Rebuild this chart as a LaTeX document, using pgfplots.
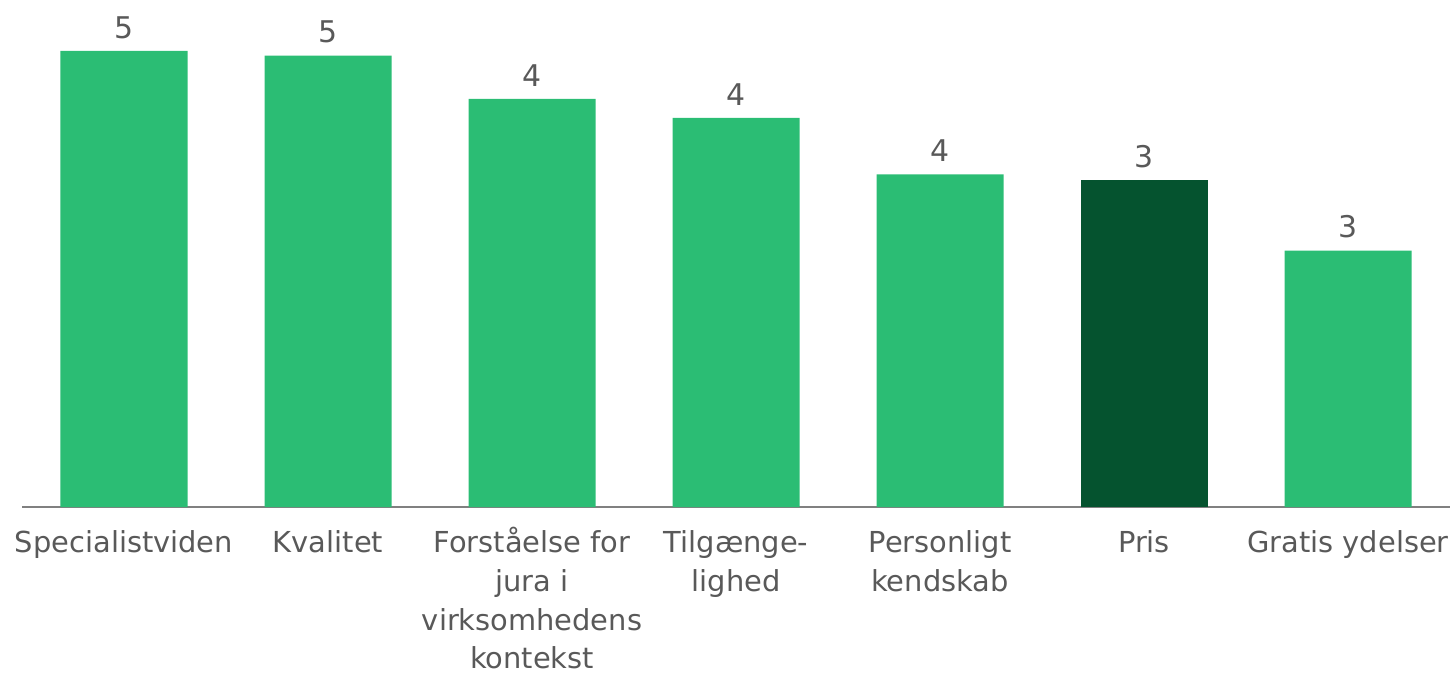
\documentclass[border=0pt]{standalone}
\usepackage{pgfplots}
\pgfplotsset{compat=1.18}
\usepackage{fontspec}
\setmainfont{DejaVu Sans}
\definecolor{barlight}{HTML}{2BBD74}
\definecolor{bardark}{HTML}{05532F}
\definecolor{txt}{HTML}{595959}
\definecolor{axl}{HTML}{808080}
\newcommand{\st}{\rule{0pt}{15bp}}
\begin{document}
\begin{tikzpicture}
\useasboundingbox (-11bp,-85bp) rectangle (714bp,253.5bp);
\begin{axis}[
  at={(0,0)}, anchor=south west,
  scale only axis,
  width=714bp, height=253.5bp,
  xmin=-0.5, xmax=6.5, ymin=0, ymax=5.38,
  axis x line=bottom, axis y line=none,
  axis line style={draw=axl, line width=1bp, -},
  x axis line style={-},
  ytick=\empty,
  xtick={0,1,2,3,4,5,6},
  xticklabels={{\st Specialistviden},{\st Kvalitet},{\st Forståelse for\\jura i\\virksomhedens\\kontekst},{\st Tilgænge-\\lighed},{\st Personligt\\kendskab},{\st Pris},{\st Gratis ydelser}},
  major tick length=0pt,
  xticklabel style={align=center, font=\fontsize{14.5}{19.5}\selectfont, text=txt, inner sep=0pt, anchor=north, yshift=-7.5bp},
  ybar, bar width=63.5bp, bar shift=0pt,
  point meta=explicit symbolic,
  nodes near coords,
  nodes near coords style={font=\fontsize{15}{19}\selectfont, text=txt, anchor=south, inner sep=0pt, yshift=6bp},
  clip=false,
]
\addplot[fill=barlight, draw=none] coordinates {
  (0,4.84) [5]
  (1,4.79) [5]
  (2,4.33) [4]
  (3,4.13) [4]
  (4,3.53) [4]
  (6,2.72) [3]
};
\addplot[fill=bardark, draw=none] coordinates {
  (5,3.47) [3]
};
\end{axis}
\end{tikzpicture}
\end{document}
